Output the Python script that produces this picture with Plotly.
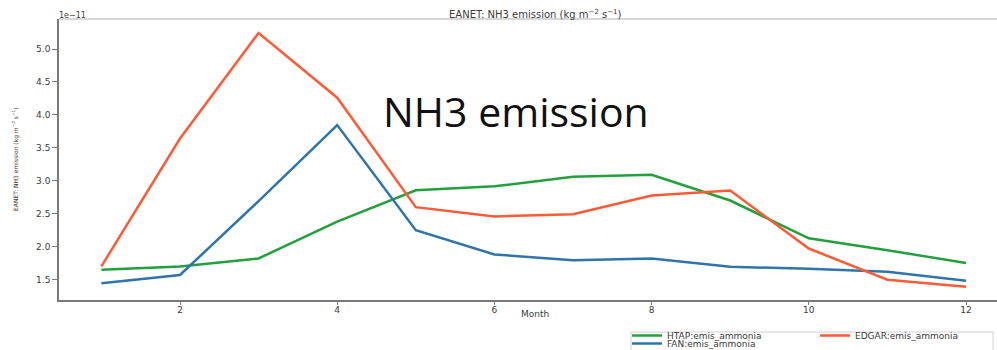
import plotly.graph_objects as go

# Monthly NH3 emission over the EANET region (units of 1e-11 kg m-2 s-1)
months = [1, 2, 3, 4, 5, 6, 7, 8, 9, 10, 11, 12]
htap = [1.648, 1.699, 1.82, 2.38, 2.854, 2.915, 3.061, 3.091, 2.699, 2.126, 1.945, 1.749]
fan = [1.443, 1.568, 2.69, 3.845, 2.247, 1.88, 1.794, 1.82, 1.693, 1.663, 1.618, 1.482]
edgar = [1.70, 3.64, 5.244, 4.26, 2.598, 2.458, 2.492, 2.775, 2.85, 1.97, 1.497, 1.391]

x_ticks = [2, 4, 6, 8, 10, 12]
y_ticks = [1.5, 2.0, 2.5, 3.0, 3.5, 4.0, 4.5, 5.0]

GREEN = "#22a03c"
BLUE = "#2f74aa"
RED = "#ff5a36"
FONT = "DejaVu Sans"
TXT = "#3a3a3a"

W, H = 997, 350
ML, MT, MB = 59, 19, 50
pw = W - ML
ph = H - MT - MB


def px_x(x):
    return (x - ML) / pw


def px_y(y):
    return (H - MB - y) / ph


fig = go.Figure()
fig.add_trace(go.Scatter(x=months, y=htap, mode="lines", name="HTAP:emis_ammonia",
                         line=dict(color=GREEN, width=2.5), legend="legend", legendrank=1))
fig.add_trace(go.Scatter(x=months, y=fan, mode="lines", name="FAN:emis_ammonia",
                         line=dict(color=BLUE, width=2.5), legend="legend2", legendrank=3))
fig.add_trace(go.Scatter(x=months, y=edgar, mode="lines", name="EDGAR:emis_ammonia",
                         line=dict(color=RED, width=2.5), legend="legend", legendrank=2))

fig.update_layout(
    width=W, height=H,
    margin=dict(l=ML, r=0, t=MT, b=MB),
    paper_bgcolor="white", plot_bgcolor="white",
    font=dict(family=FONT, size=9, color=TXT),
    showlegend=True,
    legend=dict(orientation="h", xref="container", yref="container",
                x=627 / W, y=1 - 321 / H, xanchor="left", yanchor="top",
                borderwidth=0, bgcolor="rgba(0,0,0,0)",
                font=dict(family=FONT, size=9, color=TXT),
                entrywidth=143, entrywidthmode="pixels"),
    legend2=dict(orientation="h", xref="container", yref="container",
                 x=627 / W, y=1 - 329 / H, xanchor="left", yanchor="top",
                 borderwidth=0, bgcolor="rgba(0,0,0,0)",
                 font=dict(family=FONT, size=9, color=TXT)),
)

fig.update_xaxes(range=[0.4606, 12.394], tickvals=x_ticks, ticktext=[str(v) for v in x_ticks],
                 showgrid=False, zeroline=False, showline=True, linecolor="#7a7a7a", linewidth=1.5,
                 ticks="outside", ticklen=3, tickcolor="#7a7a7a", tickwidth=1,
                 ticklabelstandoff=-3,
                 tickfont=dict(size=9, color=TXT))
fig.update_yaxes(range=[1.1885, 5.4555], tickvals=y_ticks, ticktext=[f"{v:.1f}" for v in y_ticks],
                 showgrid=False, zeroline=False, showline=True, linecolor="#7a7a7a", linewidth=1.5,
                 ticks="outside", ticklen=5, tickcolor="#7a7a7a", tickwidth=1,
                 tickfont=dict(size=9, color=TXT))

# top frame line of the axes box
fig.add_shape(type="line", xref="paper", yref="paper", x0=0, x1=1, y0=1, y1=1,
              line=dict(color="#c8c8c8", width=1.5))
# legend frame
fig.add_shape(type="rect", xref="paper", yref="paper",
              x0=px_x(631), x1=px_x(993), y0=px_y(360), y1=px_y(332),
              line=dict(color="#d0d0d0", width=1), fillcolor="rgba(0,0,0,0)")

annotations = [
    dict(text="EANET: NH3 emission (kg m<sup>−2</sup> s<sup>−1</sup>)", xref="paper", yref="paper",
         x=px_x(535), y=px_y(14), xanchor="center", yanchor="middle",
         showarrow=False, font=dict(size=10, color=TXT)),
    dict(text="1e−11", xref="paper", yref="paper", x=px_x(57), y=px_y(15),
         xanchor="left", yanchor="middle", showarrow=False, font=dict(size=8, color=TXT)),
    dict(text="Month", xref="paper", yref="paper", x=px_x(535), y=px_y(314),
         xanchor="center", yanchor="middle", showarrow=False, font=dict(size=9, color=TXT)),
    dict(text="EANET: NH3 emission (kg m<sup>−2</sup> s<sup>−1</sup>)", xref="paper", yref="paper",
         x=px_x(15), y=px_y(160), textangle=-90, xanchor="center", yanchor="middle",
         showarrow=False, font=dict(size=6, color=TXT)),
    dict(text="NH3 emission", xref="paper", yref="paper",
         x=px_x(516), y=px_y(111), xanchor="center", yanchor="middle",
         showarrow=False, font=dict(family="Open Sans", size=41, color="#111111")),
]
fig.update_layout(annotations=annotations)

fig.write_html("out.html")
